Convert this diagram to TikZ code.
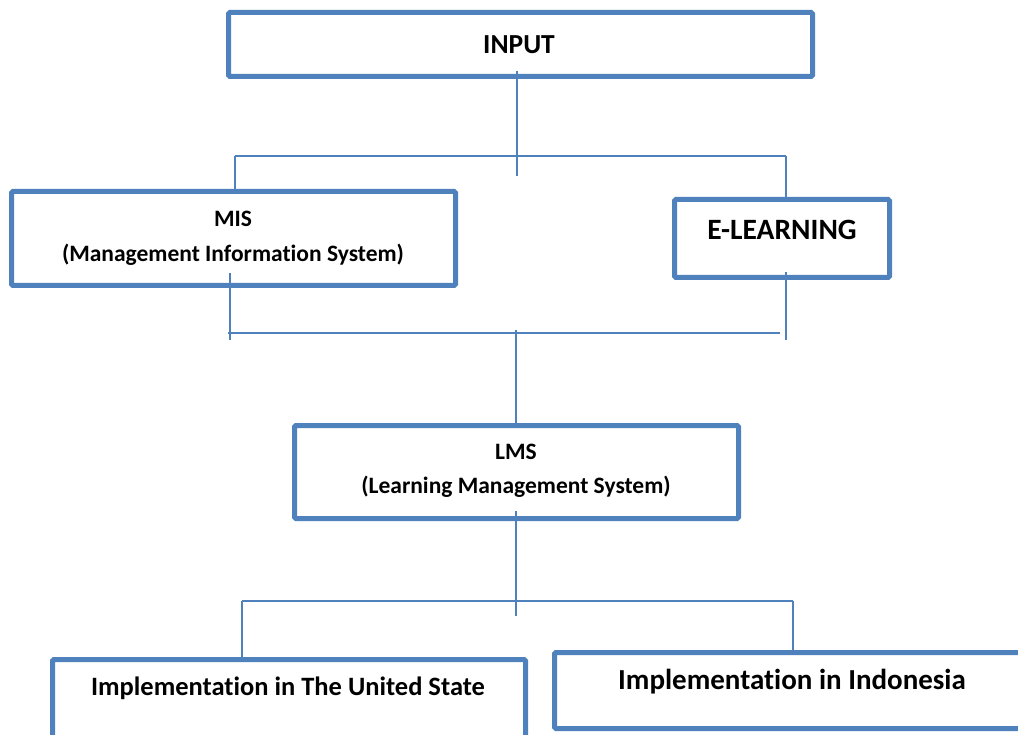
\documentclass[tikz,border=0pt]{standalone}
\usepackage{fontspec}
\setmainfont{Carlito}[Ligatures=NoCommon]
\usetikzlibrary{calc}
\definecolor{frame}{HTML}{4F81BD}
\begin{document}
\begin{tikzpicture}[x=1pt,y=-1pt,
  box/.style={draw=frame, line width=5pt, rounded corners=1.5pt, inner sep=0pt},
  conn/.style={draw=frame, line width=2pt},
  lbl/.style={font=\bfseries, align=center, inner sep=0pt, text=black},
]
\useasboundingbox (0,0) rectangle (1018,735);
\clip (0,0) rectangle (1018,735);

% boxes
\node[box, minimum width=584, minimum height=64] (input) at (520.5,44.5) {};
\node[box, minimum width=444, minimum height=94] (mis) at (233.5,238.5) {};
\node[box, minimum width=215, minimum height=78] (elearn) at (782,238.5) {};
\node[box, minimum width=444, minimum height=93] (lms) at (516.5,472) {};
\node[box, minimum width=473, minimum height=98] (us) at (289,708.5) {};
\node[box, minimum width=505, minimum height=76] (ind) at (807,690.5) {};

% labels
\node[lbl, font=\bfseries\fontsize{27.5}{32}\selectfont] (tinput) at (519,45) {INPUT};
\node[lbl, font=\bfseries\fontsize{23.5}{35}\selectfont] (tmis) at (233,238.5) {MIS\\(Management Information System)};
\node[lbl, font=\bfseries\fontsize{29.5}{34}\selectfont] (telearn) at (782,230) {E-LEARNING};
\node[lbl, font=\bfseries\fontsize{23.5}{34}\selectfont] (tlms) at (516,471) {LMS\\(Learning Management System)};
\node[lbl, font=\bfseries\fontsize{26.5}{30}\selectfont] (tus) at (288,688) {Implementation in The United State};
\node[lbl, font=\bfseries\fontsize{29}{36}\selectfont] (tind) at (792,682) {Implementation in Indonesia};

% junction points
\coordinate (a0) at (517,71);
\coordinate (a1) at (517,176);
\coordinate (h1l) at (235,156.5);
\coordinate (h1r) at (786,156.5);
\coordinate (b0) at (230,273);
\coordinate (b1) at (230,340);
\coordinate (c0) at (786,272);
\coordinate (c1) at (786,340);
\coordinate (h2l) at (228,333);
\coordinate (h2r) at (780,333);
\coordinate (d0) at (516,330);
\coordinate (e0) at (516,511);
\coordinate (e1) at (516,616);
\coordinate (h3l) at (242,601);
\coordinate (h3r) at (793,601);

% connectors
\draw[conn] (a0) -- (a1);
\draw[conn] (h1l) -- (h1r);
\draw[conn] (h1l) -- (h1l |- mis.north);
\draw[conn] (h1r) -- (h1r |- elearn.north);
\draw[conn] (b0) -- (b1);
\draw[conn] (c0) -- (c1);
\draw[conn] (h2l) -- (h2r);
\draw[conn] (d0) -- (d0 |- lms.north);
\draw[conn] (e0) -- (e1);
\draw[conn] (h3l) -- (h3r);
\draw[conn] (h3l) -- (h3l |- us.north);
\draw[conn] (h3r) -- (h3r |- ind.north);
\end{tikzpicture}
\end{document}
